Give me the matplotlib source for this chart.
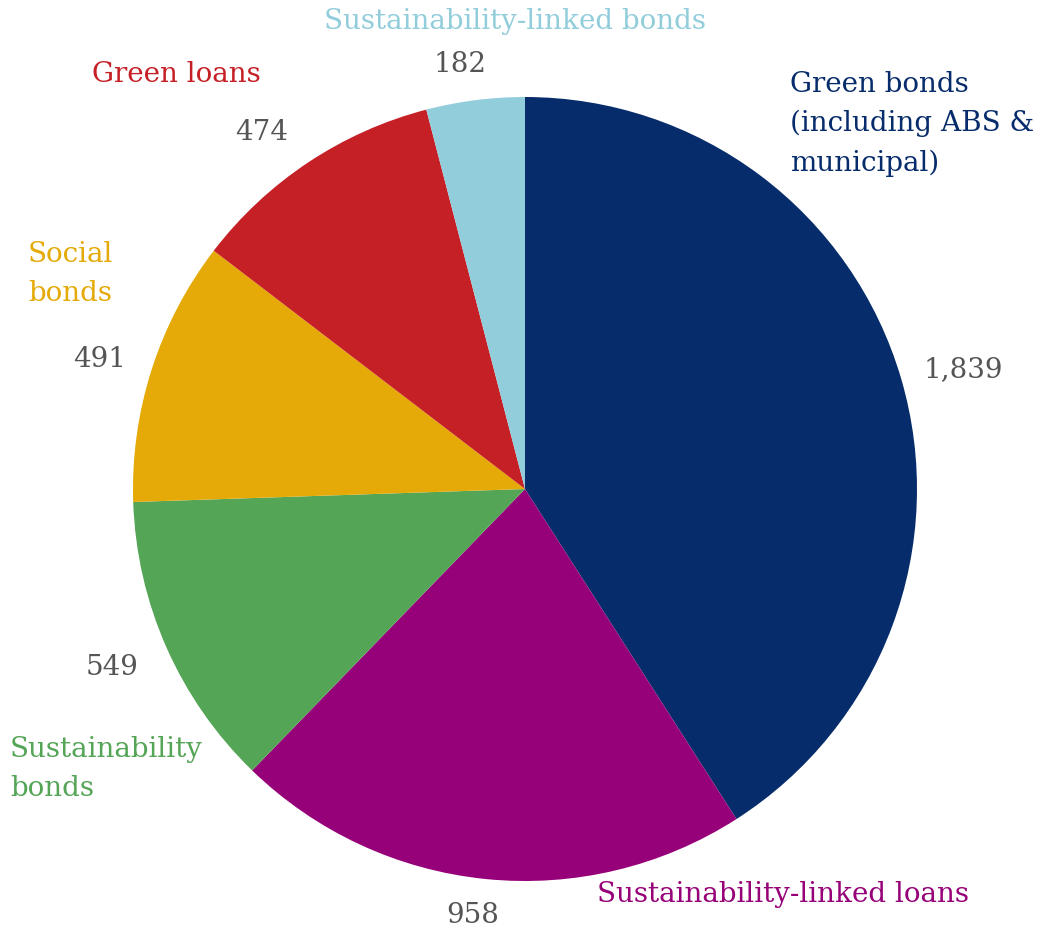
import numpy as np
import matplotlib.pyplot as plt

categories = ["Green bonds\n(including ABS &\nmunicipal)", "Sustainability-linked loans",
              "Sustainability\nbonds", "Social\nbonds", "Green loans",
              "Sustainability-linked bonds"]
values = [1839, 958, 549, 491, 474, 182]
colours = ["#072c6b", "#960078", "#55a557", "#e5aa07", "#c62027", "#92cddc"]

# label placement in pixels (x, y from top), alignment
name_pos = [(790, 124, "left"), (597, 895, "left"), (10, 769, "left"),
            (28, 274, "left"), (176, 75, "center"), (515, 22, "center")]
num_pos = [(963, 370), (473, 916), (112, 668), (100, 360), (262, 133), (460, 65)]

W, H = 1040, 937
cx, cy, R = 525, 490, 392

plt.rcParams['font.family'] = ['DejaVu Serif']

fig = plt.figure(figsize=(W/100, H/100), dpi=100)
ax = fig.add_axes([0, 0, 1, 1])
ax.pie(values, colors=colours, startangle=90, counterclock=False, radius=1,
       wedgeprops=dict(linewidth=0))
ax.set_xlim(-cx/R, (W-cx)/R)
ax.set_ylim((cy-H)/R, cy/R)
ax.set_aspect('auto')
ax.axis('off')

def to_data(px, py):
    return (px-cx)/R, (cy-py)/R

for name, col, (px, py, ha) in zip(categories, colours, name_pos):
    x, y = to_data(px, py)
    ax.text(x, y, name, color=col, fontsize=20, ha=ha, va='center', linespacing=1.58)

for v, (px, py) in zip(values, num_pos):
    x, y = to_data(px, py)
    ax.text(x, y, f"{v:,}", color="#555555", fontsize=20, ha='center', va='center')

fig.savefig("out.png", dpi=100)
